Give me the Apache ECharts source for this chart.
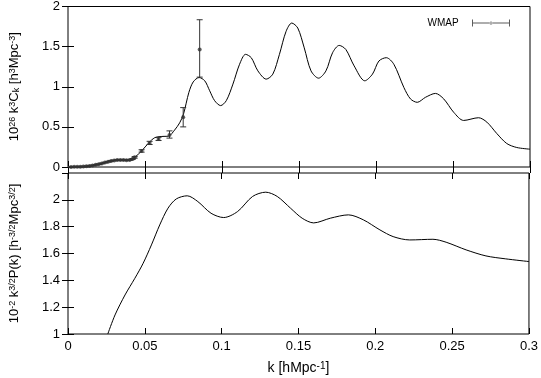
<!DOCTYPE html>
<html>
<head>
<meta charset="utf-8">
<script src="https://cdn.jsdelivr.net/npm/echarts@6/dist/echarts.min.js"></script>
<style>
  html, body { margin: 0; padding: 0; background: #fff; }
  #chart { width: 541px; height: 378px; }
</style>
</head>
<body>
<div id="chart"></div>
<script>
// top panel: 10^26 k^3 C_k model curve
var ckK = [0, 0.005, 0.01, 0.015, 0.02, 0.025, 0.03, 0.035, 0.04, 0.0433, 0.0478, 0.0524, 0.0563, 0.0605, 0.0653, 0.0692,
  0.0725, 0.075, 0.0785, 0.0813, 0.0851, 0.0888, 0.092, 0.0952, 0.0991, 0.1028, 0.1071, 0.1114, 0.1153, 0.119, 0.1233,
  0.1287, 0.133, 0.1373, 0.1416, 0.1453, 0.1492, 0.1534, 0.1578, 0.1627, 0.1675, 0.1718, 0.1761, 0.1804, 0.1858,
  0.1927, 0.1977, 0.2019, 0.2067, 0.2116, 0.2181, 0.2224, 0.2268, 0.2321, 0.2386, 0.244, 0.2504, 0.2569, 0.2666,
  0.272, 0.2785, 0.2849, 0.2914, 0.3]
var ckVal = [0, 0.002, 0.005, 0.015, 0.035, 0.06, 0.083, 0.09, 0.086, 0.12, 0.2, 0.3, 0.365, 0.38, 0.385, 0.46,
  0.55, 0.66, 0.93, 1.06, 1.115, 1.074, 0.95, 0.827, 0.765, 0.827, 1.033, 1.28, 1.404, 1.362, 1.198,
  1.095, 1.157, 1.404, 1.69, 1.794, 1.732, 1.485, 1.198, 1.107, 1.198, 1.424, 1.515, 1.465, 1.26,
  1.074, 1.157, 1.321, 1.362, 1.28, 0.991, 0.848, 0.806, 0.868, 0.917, 0.848, 0.683, 0.58, 0.614,
  0.559, 0.416, 0.293, 0.243, 0.222]

// WMAP points with error bars
var wmapK = [0.002, 0.004, 0.006, 0.008, 0.010, 0.012, 0.014, 0.016, 0.018, 0.020, 0.022, 0.024, 0.026, 0.028,
  0.030, 0.032, 0.034, 0.036, 0.038, 0.040, 0.042, 0.0433, 0.0478, 0.053, 0.0588, 0.0659, 0.0748, 0.0855]
var wmapVal = [0.001, 0.002, 0.003, 0.004, 0.006, 0.009, 0.013, 0.019, 0.027, 0.035, 0.045, 0.055, 0.065, 0.075,
  0.082, 0.087, 0.088, 0.087, 0.085, 0.086, 0.10, 0.12, 0.2, 0.30, 0.35, 0.40, 0.62, 1.465]
var wmapLow = [0, 0, 0, 0, 0.002, 0.005, 0.009, 0.015, 0.023, 0.031, 0.041, 0.051, 0.061, 0.071,
  0.078, 0.083, 0.084, 0.083, 0.081, 0.082, 0.094, 0.11, 0.185, 0.28, 0.33, 0.36, 0.50, 1.12]
var wmapHigh = [0.004, 0.005, 0.006, 0.007, 0.01, 0.013, 0.017, 0.023, 0.031, 0.039, 0.049, 0.059, 0.069, 0.079,
  0.086, 0.091, 0.092, 0.091, 0.089, 0.09, 0.106, 0.13, 0.215, 0.32, 0.37, 0.45, 0.74, 1.835]

// bottom panel: 10^-2 k^3/2 P(k)
var pkK = [0.0259, 0.0306, 0.0371, 0.0435, 0.0489, 0.0543, 0.0597, 0.0651, 0.0705, 0.0776, 0.0845, 0.0931, 0.1013,
  0.1104, 0.1201, 0.1287, 0.1362, 0.1448, 0.1524, 0.1599, 0.1707, 0.1825, 0.1922, 0.203, 0.2116, 0.2224, 0.2375,
  0.2461, 0.2591, 0.272, 0.2849, 0.3]
var pkVal = [1.0, 1.142, 1.291, 1.415, 1.527, 1.664, 1.813, 1.938, 2.007, 2.03, 1.987, 1.90, 1.868,
  1.913, 2.025, 2.057, 2.025, 1.938, 1.863, 1.828, 1.863, 1.888, 1.851, 1.776, 1.726, 1.701, 1.706,
  1.684, 1.627, 1.582, 1.56, 1.54]

var font = 'Liberation Sans'
var rich = {
  sup: {fontSize: 9, fontFamily: font, color: '#000', verticalAlign: 'top', lineHeight: 9},
  sub: {fontSize: 9, fontFamily: font, color: '#000', verticalAlign: 'bottom', lineHeight: 9}
}
var richX = {
  sup: {fontSize: 10, fontFamily: font, color: '#000', verticalAlign: 'top', lineHeight: 10}
}

var zipXY = function(xs, ys){
  var out = []
  for(var i=0;i<xs.length;i++) out.push([xs[i], ys[i]])
  return out
}
var errData = []
for(var i=0;i<wmapK.length;i++) errData.push([wmapK[i], wmapLow[i], wmapHigh[i]])

var tick = {show: true, inside: true, length: 6, lineStyle: {color: '#000'}}
var xBase = function(grid, pos, labels){
  return {
    type: 'value', gridIndex: grid, position: pos, min: 0, max: 0.3, interval: 0.05,
    axisLine: {show: false}, axisTick: tick, splitLine: {show: false},
    axisLabel: {show: labels, color: '#000', fontFamily: font, fontSize: 13, margin: 6}
  }
}
var yBase = function(grid, pos, min, max, interval, labels){
  return {
    type: 'value', gridIndex: grid, position: pos, min: min, max: max, interval: interval,
    axisLine: {show: false}, axisTick: tick, splitLine: {show: false},
    axisLabel: {show: labels, color: '#000', fontFamily: font, fontSize: 13, margin: 8, showMaxLabel: max != 2.2}
  }
}

var xTop = xBase(0, 'bottom', false)
var xTopMirror = xBase(0, 'top', false)
var xBot = xBase(1, 'bottom', true)
xBot.name = 'k [hMpc{sup|-1}]'
xBot.nameLocation = 'middle'
xBot.nameGap = 27
xBot.nameTextStyle = {color: '#000', fontFamily: font, fontSize: 14, rich: richX}
var xBotMirror = xBase(1, 'top', false)

var yTop = yBase(0, 'left', 0, 2, 0.5, true)
yTop.name = '10{sup|26} k{sup|3}C{sub|k} [h{sup|3}Mpc{sup|-3}]'
yTop.nameLocation = 'middle'
yTop.nameGap = 47
yTop.nameTextStyle = {color: '#000', fontFamily: font, fontSize: 13, rich: rich}
var yTopMirror = yBase(0, 'right', 0, 2, 0.5, false)
var yBot = yBase(1, 'left', 1, 2.2, 0.2, true)
yBot.name = '10{sup|-2} k{sup|3/2}P(k) [h{sup|-3/2}Mpc{sup|3/2}]'
yBot.nameLocation = 'middle'
yBot.nameGap = 47
yBot.nameTextStyle = {color: '#000', fontFamily: font, fontSize: 13, rich: rich}
var yBotMirror = yBase(1, 'right', 1, 2.2, 0.2, false)

var option = {
  animation: false,
  backgroundColor: '#fff',
  grid: [
    {left: 66, right: 11, top: 5, height: 162, show: true, borderColor: '#000', borderWidth: 1},
    {left: 66, right: 11, top: 173, height: 161, show: true, borderColor: '#000', borderWidth: 1}
  ],
  legend: {
    data: ['WMAP'],
    right: 26, top: 13,
    align: 'right',
    itemWidth: 38, itemHeight: 7,
    icon: 'path://M0,0h1v7h-1z M0,3h38v1h-38z M37,0h1v7h-1z M20.5,3.5a1.5,1.5 0 1,0 -3,0a1.5,1.5 0 1,0 3,0z',
    formatter: function(name){ return name + '   ' },
    textStyle: {color: '#000', fontFamily: font, fontSize: 10}
  },
  xAxis: [xTop, xTopMirror, xBot, xBotMirror],
  yAxis: [yTop, yTopMirror, yBot, yBotMirror],
  series: [
    {
      type: 'line', xAxisIndex: 0, yAxisIndex: 0, data: zipXY(ckK, ckVal),
      smooth: 0.3, showSymbol: false, lineStyle: {color: '#000', width: 1}, z: 2
    },
    {
      type: 'custom', xAxisIndex: 0, yAxisIndex: 0, data: errData, z: 3,
      renderItem: function(params, api){
        var lo = api.coord([api.value(0), api.value(1)])
        var hi = api.coord([api.value(0), api.value(2)])
        var st = {stroke: '#333', lineWidth: 1}
        return {
          type: 'group',
          children: [
            {type: 'line', shape: {x1: lo[0], y1: lo[1], x2: hi[0], y2: hi[1]}, style: st},
            {type: 'line', shape: {x1: lo[0]-3, y1: lo[1], x2: lo[0]+3, y2: lo[1]}, style: st},
            {type: 'line', shape: {x1: hi[0]-3, y1: hi[1], x2: hi[0]+3, y2: hi[1]}, style: st}
          ]
        }
      }
    },
    {
      name: 'WMAP', type: 'scatter', xAxisIndex: 0, yAxisIndex: 0, data: zipXY(wmapK, wmapVal),
      symbol: 'circle', symbolSize: 4, itemStyle: {color: '#333'}, z: 4
    },
    {
      type: 'line', xAxisIndex: 2, yAxisIndex: 2, data: zipXY(pkK, pkVal),
      smooth: 0.3, showSymbol: false, lineStyle: {color: '#000', width: 1}
    }
  ]
}

var chart = echarts.init(document.getElementById('chart'))
chart.setOption(option)
</script>
</body>
</html>
